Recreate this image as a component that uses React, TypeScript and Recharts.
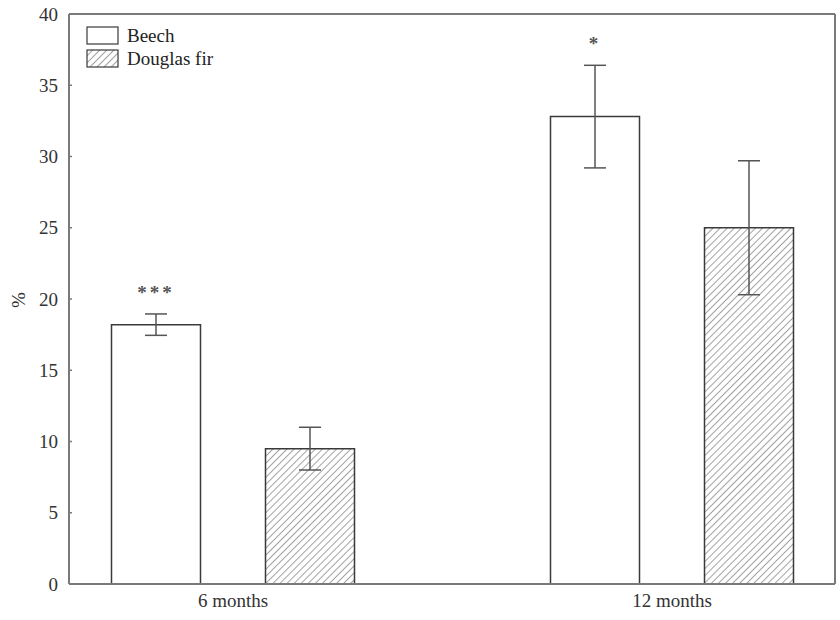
import { BarChart, Bar, XAxis, YAxis, ErrorBar, LabelList, Legend } from 'recharts';

const categories = ['6 months', '12 months'];
const beech = [18.2, 32.8];
const beechErr = [0.75, 3.6];
const douglas = [9.5, 25.0];
const douglasErr = [1.5, 4.7];
const sigMarks = ['***', '*'];
const yTicks = [0, 5, 10, 15, 20, 25, 30, 35, 40];

const data = categories.map((name, i) => ({
  x: i,
  name,
  beech: beech[i],
  beechErr: beechErr[i],
  douglas: douglas[i],
  douglasErr: douglasErr[i],
  sig: sigMarks[i],
}));

const FONT = '"Liberation Serif", "DejaVu Serif", serif';
const FRAME = '#7a7a7a';
const INK = '#3a3a3a';

function LeftTick(props: any) {
  const { x, y, payload } = props;
  return (
    <g>
      <line x1={x} y1={y} x2={x + 3} y2={y} stroke={FRAME} strokeWidth={1.5} />
      <text x={x - 11} y={y} dy="0.35em" textAnchor="end" fontFamily={FONT} fontSize={19} fill="#333">
        {payload.value}
      </text>
    </g>
  );
}

function RightTick(props: any) {
  const { x, y } = props;
  return <line x1={x} y1={y} x2={x - 3} y2={y} stroke={FRAME} strokeWidth={1.5} />;
}

function SigLabel(props: any) {
  const { x, y, width, height, value, index } = props;
  const perUnit = height / beech[index];
  const capY = y - beechErr[index] * perUnit;
  return (
    <text
      x={x + width / 2}
      y={capY - 24 + 9}
      textAnchor="middle"
      fontFamily={FONT}
      fontSize={19}
      fontWeight="bold"
      letterSpacing={3}
      fill="#555"
    >
      {value}
    </text>
  );
}

function LegendContent() {
  const items = [
    { label: 'Beech', fill: '#ffffff' },
    { label: 'Douglas fir', fill: 'url(#hatchLegend)' },
  ];
  return (
    <div style={{ fontFamily: FONT, fontSize: 19, color: '#222' }}>
      {items.map((it) => (
        <div key={it.label} style={{ display: 'flex', alignItems: 'center', height: 23 }}>
          <svg width={33} height={19} style={{ marginRight: 8 }}>
            <defs>
              <pattern id="hatchLegend" width="5" height="5" patternUnits="userSpaceOnUse" patternTransform="rotate(45)">
                <rect width="5" height="5" fill="#fff" />
                <line x1="0" y1="0" x2="0" y2="5" stroke="#555" strokeWidth="1.1" />
              </pattern>
            </defs>
            <rect x={1} y={1} width={31} height={17} fill={it.fill} stroke={INK} strokeWidth={1.2} />
          </svg>
          <span>{it.label}</span>
        </div>
      ))}
    </div>
  );
}

export default function App() {
  return (
    <div style={{ position: 'absolute', left: 0, top: 0, width: 840, height: 620, background: '#fff' }}>
      <BarChart
        width={840}
        height={620}
        data={data}
        margin={{ top: 13, right: 4, bottom: 0, left: 19 }}
        barSize={89}
        barGap={65}
      >
        <defs>
          <pattern id="hatch" width="5" height="5" patternUnits="userSpaceOnUse" patternTransform="rotate(45)">
            <rect width="5" height="5" fill="#fff" />
            <line x1="0" y1="0" x2="0" y2="5" stroke="#555" strokeWidth="1.1" />
          </pattern>
        </defs>
        <XAxis
          dataKey="x"
          type="number"
          domain={[0, 1]}
          ticks={[0, 1]}
          tickFormatter={(v: number) => categories[v]}
          padding={{ left: 164, right: 163 }}
          tickLine={false}
          tickSize={0}
          tickMargin={10}
          axisLine={{ stroke: FRAME, strokeWidth: 2 }}
          tick={{ fontFamily: FONT, fontSize: 19, fill: '#333' }}
          height={36}
        />
        <XAxis
          xAxisId="top"
          orientation="top"
          type="number"
          domain={[0, 1]}
          tick={false}
          tickLine={false}
          height={1}
          axisLine={{ stroke: FRAME, strokeWidth: 2 }}
        />
        <YAxis
          domain={[0, 40]}
          ticks={yTicks}
          width={50}
          tickSize={0}
          tickMargin={0}
          tickLine={false}
          tick={<LeftTick />}
          axisLine={{ stroke: FRAME, strokeWidth: 2 }}
          label={{
            content: () => (
              <text x={18} y={300} transform="rotate(-90 18 300)" textAnchor="middle" dy="0.35em" fontFamily={FONT} fontSize={19} fill="#333">
                %
              </text>
            ),
          }}
        />
        <YAxis
          yAxisId="right"
          orientation="right"
          domain={[0, 40]}
          ticks={yTicks}
          width={1}
          tickSize={0}
          tickMargin={0}
          tickLine={false}
          tick={<RightTick />}
          axisLine={{ stroke: FRAME, strokeWidth: 2 }}
        />
        <Legend
          layout="vertical"
          align="center"
          verticalAlign="middle"
          content={<LegendContent />}
          wrapperStyle={{ left: 86, top: 24, width: 'auto', height: 'auto' }}
        />
        <Bar dataKey="beech" name="Beech" fill="#ffffff" stroke={INK} strokeWidth={1.5} isAnimationActive={false}>
          <ErrorBar dataKey="beechErr" width={11} stroke="#555" strokeWidth={1.5} />
          <LabelList dataKey="sig" content={<SigLabel />} />
        </Bar>
        <Bar dataKey="douglas" name="Douglas fir" fill="url(#hatch)" stroke={INK} strokeWidth={1.5} isAnimationActive={false}>
          <ErrorBar dataKey="douglasErr" width={11} stroke="#555" strokeWidth={1.5} />
        </Bar>
      </BarChart>
    </div>
  );
}
